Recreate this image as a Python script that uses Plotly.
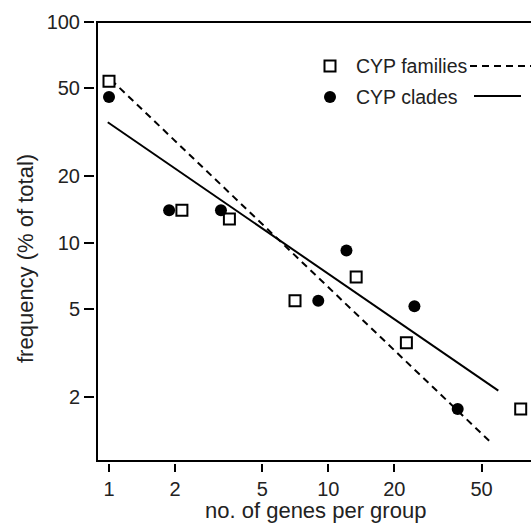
import plotly.graph_objects as go
import math

# ---- data ----
fam_x = [1.0, 2.15, 3.54, 7.05, 13.4, 22.7, 75.4]
fam_y = [53.9, 14.0, 12.8, 5.45, 6.98, 3.51, 1.76]
clade_x = [1.0, 1.88, 3.24, 9.0, 12.1, 24.7, 38.9]
clade_y = [45.7, 14.0, 14.0, 5.45, 9.2, 5.14, 1.76]
fam_fit_x = [1.02, 54.2]
fam_fit_y = [54.8, 1.26]
clade_fit_x = [0.987, 59.6]
clade_fit_y = [35.1, 2.13]
x_ticks = [1, 2, 5, 10, 20, 50]
y_ticks = [2, 5, 10, 20, 50, 100]
legend_labels = ["CYP families", "CYP clades"]

W, H = 531, 524
L, T, B = 95, 22, 61
PW, PH = W - L, H - T - B
FONT = "Liberation Sans, Arial, sans-serif"
TXT = "#222"

def px(xp):
    return (xp - L) / PW

def py(yp):
    return (H - B - yp) / PH

fig = go.Figure()
fig.add_trace(go.Scatter(x=fam_fit_x, y=fam_fit_y, mode="lines",
                         line=dict(color="black", width=2, dash="7px,5px"), showlegend=False))
fig.add_trace(go.Scatter(x=clade_fit_x, y=clade_fit_y, mode="lines",
                         line=dict(color="black", width=2), showlegend=False))
fig.add_trace(go.Scatter(x=fam_x, y=fam_y, mode="markers",
                         marker=dict(symbol="square", size=11, color="white",
                                     line=dict(color="black", width=2)), showlegend=False))
fig.add_trace(go.Scatter(x=clade_x, y=clade_y, mode="markers",
                         marker=dict(symbol="circle", size=12, color="black",
                                     line=dict(width=0)), showlegend=False))

# legend markers on an overlay paper-like axis
fig.add_trace(go.Scatter(x=[px(330)], y=[py(66)], mode="markers", xaxis="x2", yaxis="y2",
                         marker=dict(symbol="square", size=11, color="white",
                                     line=dict(color="black", width=2)), showlegend=False))
fig.add_trace(go.Scatter(x=[px(330)], y=[py(97)], mode="markers", xaxis="x2", yaxis="y2",
                         marker=dict(symbol="circle", size=12, color="black"), showlegend=False))
fig.add_trace(go.Scatter(x=[px(470), px(531)], y=[py(66), py(66)], mode="lines", xaxis="x2", yaxis="y2",
                         line=dict(color="black", width=2, dash="7px,5px"), showlegend=False))
fig.add_trace(go.Scatter(x=[px(474), px(521)], y=[py(96), py(96)], mode="lines", xaxis="x2", yaxis="y2",
                         line=dict(color="black", width=2), showlegend=False))

for lab, yy in zip(legend_labels, [66, 97]):
    fig.add_annotation(x=px(354), y=py(yy), xref="paper", yref="paper", text=lab,
                       showarrow=False, xanchor="left", yanchor="middle",
                       font=dict(family=FONT, size=19.5, color=TXT))

# axis titles
fig.add_annotation(x=px(315), y=py(511), xref="paper", yref="paper",
                   text="no. of genes per group", showarrow=False,
                   xanchor="center", yanchor="middle",
                   font=dict(family=FONT, size=22, color=TXT))
fig.add_annotation(x=px(25), y=py(259), xref="paper", yref="paper",
                   text="frequency (% of total)", showarrow=False, textangle=-90,
                   xanchor="center", yanchor="middle",
                   font=dict(family=FONT, size=22, color=TXT))

# axis spines (slightly detached from ticks)
fig.add_shape(type="line", xref="paper", yref="paper", x0=px(97), x1=px(97), y0=py(461), y1=1,
              line=dict(color="black", width=2))
fig.add_shape(type="line", xref="paper", yref="paper", x0=px(96), x1=1.0, y0=py(461), y1=py(461),
              line=dict(color="black", width=2))
fig.add_shape(type="line", xref="paper", yref="paper", x0=px(96), x1=1.0, y0=1, y1=1,
              line=dict(color="black", width=2))

x_lo = math.log10(1) - (109 - L) / 219.3
x_hi = (W - 109) / 219.3
y_lo = math.log10(2) - (H - B - 396.7) / 220.4
y_hi = 2.0

fig.update_layout(
    width=W, height=H,
    margin=dict(l=L, r=0, t=T, b=B, pad=0),
    paper_bgcolor="white", plot_bgcolor="white",
    font=dict(family=FONT, size=20, color=TXT),
    xaxis=dict(type="log", range=[x_lo, x_hi], tickvals=x_ticks,
               ticktext=[str(v) for v in x_ticks], ticks="outside", ticklen=8,
               tickwidth=2, tickcolor="black", showline=False, showgrid=False,
               zeroline=False, tickfont=dict(family=FONT, size=20, color=TXT)),
    yaxis=dict(type="log", range=[y_lo, y_hi], tickvals=y_ticks,
               ticktext=[str(v) for v in y_ticks], ticks="outside", ticklen=10,
               tickwidth=2, tickcolor="black", showline=False, showgrid=False,
               zeroline=False, tickfont=dict(family=FONT, size=20, color=TXT)),
    xaxis2=dict(overlaying="x", range=[0, 1], visible=False, fixedrange=True),
    yaxis2=dict(overlaying="y", range=[0, 1], visible=False, fixedrange=True),
    showlegend=False,
)

fig.write_html("out.html")
